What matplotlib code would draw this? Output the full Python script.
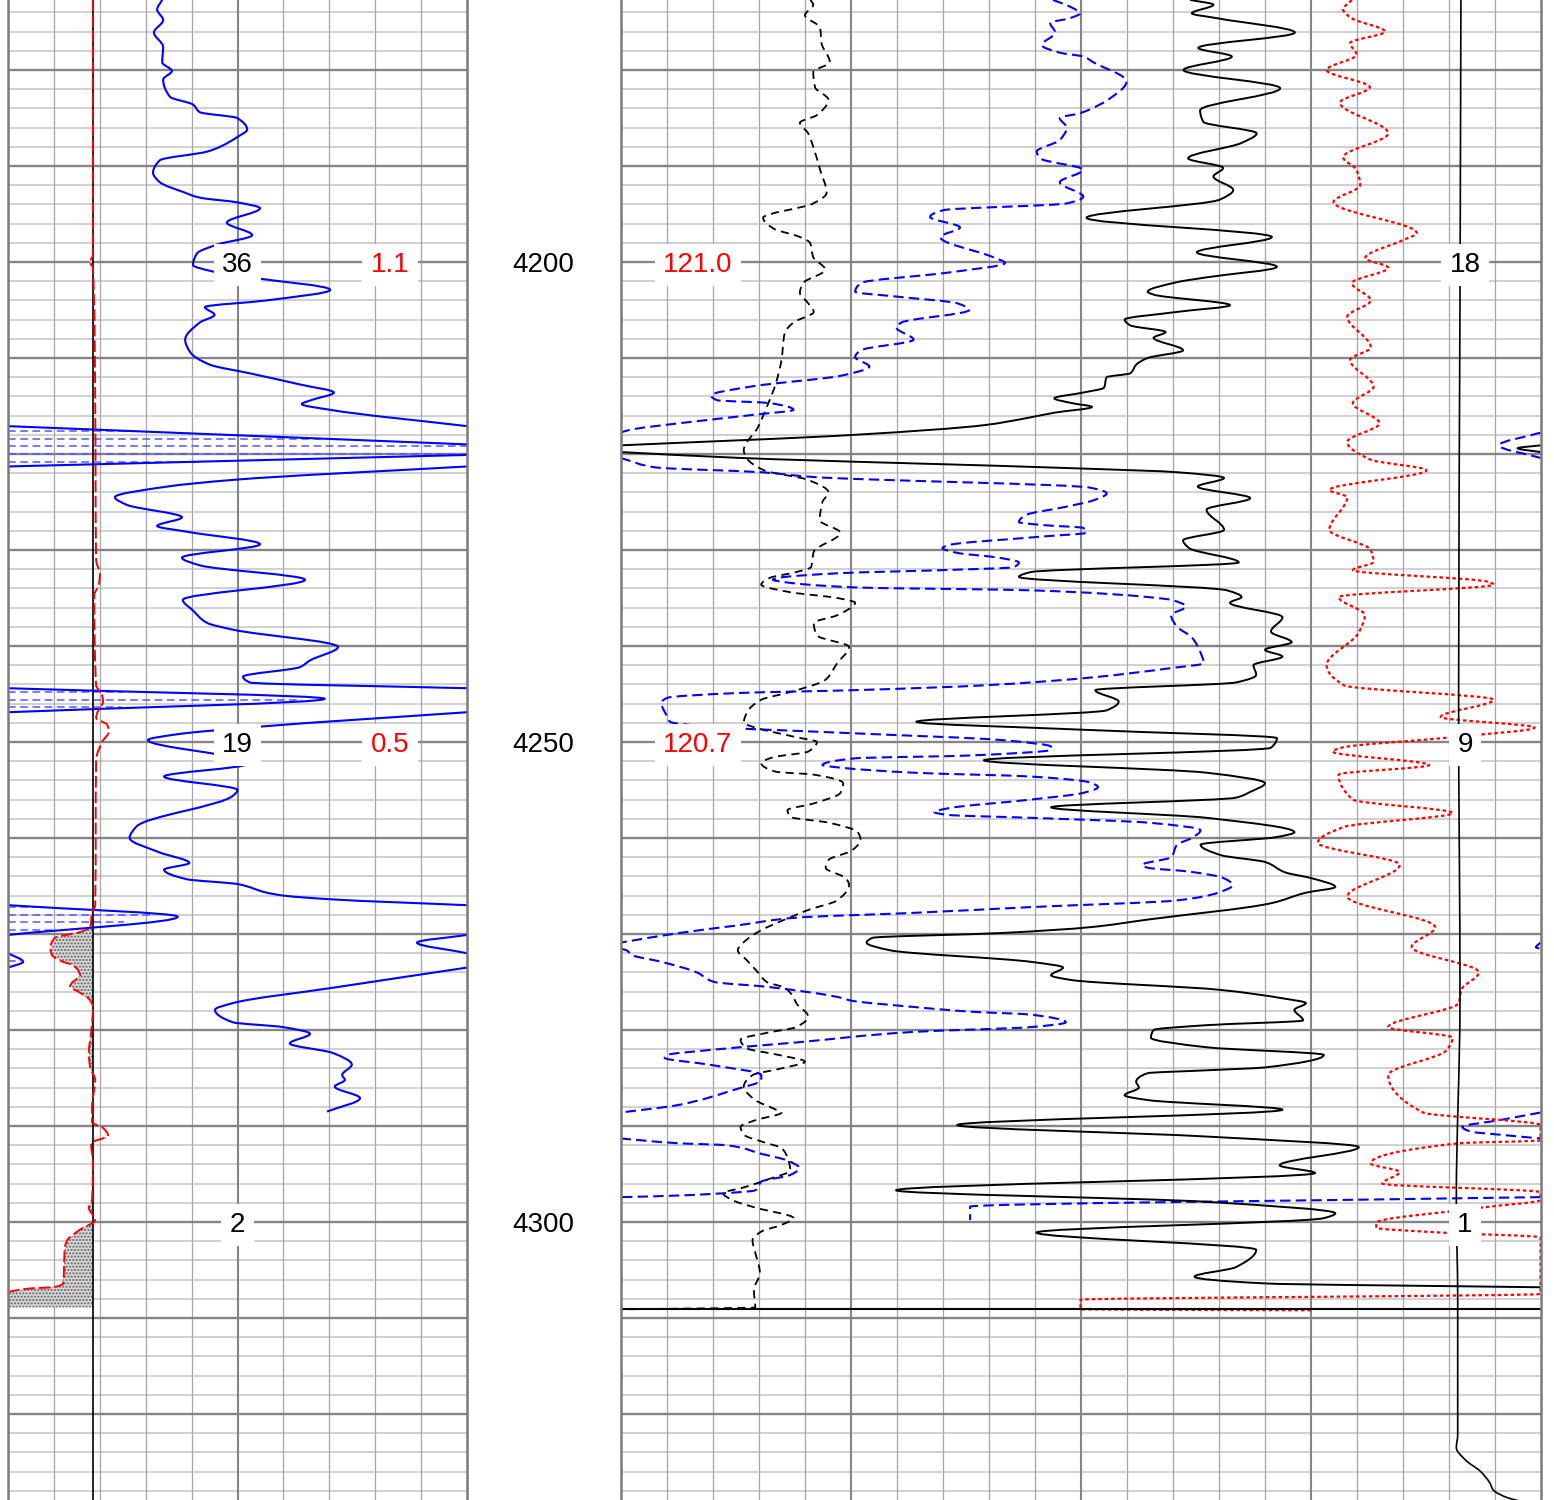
import math
import numpy as np
import matplotlib
matplotlib.use("Agg")
import matplotlib.pyplot as plt
from matplotlib.path import Path
from matplotlib.patches import PathPatch

plt.rcParams['font.family'] = ['Liberation Sans', 'DejaVu Sans']

# ---------------- data (depth in ft, values in track divisions) ----------------
TOP_DEPTH, BOTTOM_DEPTH = 4172.71, 4328.96

depth_labels = [4200, 4250, 4300]
left_black_labels = ['36', '19', '2']
left_red_labels = ['1.1', '0.5', '']
right_red_labels = ['121.0', '120.7', '']
right_black_labels = ['18', '9', '1']

# left track, blue solid curve (wraps at 10 divisions)
gr_depth = [4172.7, 4173.7, 4174.8, 4176.1, 4177.6, 4179.2, 4180.1, 4181.0, 4182.8, 4183.6,
            4184.4, 4185.0, 4186.2, 4187.0, 4188.0, 4188.5, 4189.4, 4190.7, 4191.7, 4192.7,
            4193.3, 4193.8, 4194.4, 4195.9, 4197.2, 4198.2, 4199.1, 4200.3, 4201.0, 4201.6,
            4202.9, 4204.0, 4204.7, 4205.5, 4206.3, 4208.1, 4209.4, 4210.7, 4211.6, 4212.8,
            4213.6, 4214.4, 4214.8, 4215.4, 4217.1, 4219.0, 4219.5, 4220.1, 4221.3, 4222.7,
            4223.4, 4224.5, 4225.3, 4226.6, 4227.5, 4228.1, 4229.4, 4230.8, 4231.6, 4233.1,
            4235.2, 4236.3, 4237.6, 4238.3, 4240.1, 4241.5, 4242.2, 4243.2, 4243.8, 4244.4,
            4245.5, 4246.9, 4248.4, 4249.2, 4249.8, 4251.9, 4252.3, 4253.6, 4255.0, 4255.6,
            4258.8, 4260.0, 4261.5, 4262.6, 4263.3, 4264.3, 4264.8, 4265.7, 4266.0, 4266.4,
            4267.0, 4268.2, 4270.1, 4270.9, 4272.0, 4272.9, 4273.5, 4275.6, 4277.2, 4277.9,
            4279.2, 4279.7, 4280.4, 4281.4, 4282.4, 4283.6, 4284.7, 4285.2, 4285.9, 4287.1,
            4288.5]
gr_val = [3.36, 3.25, 3.38, 3.18, 3.38, 3.36, 3.57, 3.38, 3.53, 4.03,
          4.18, 4.99, 5.21, 4.99, 4.62, 4.34, 3.31, 3.16, 3.31, 3.81,
          4.18, 5.01, 5.49, 4.77, 5.32, 4.55, 4.12, 4.03, 4.47, 5.27,
          7.02, 5.64, 4.29, 4.5, 4.18, 3.86, 3.97, 4.4, 5.27, 6.4,
          7.1, 6.6, 6.4, 7.02, 10.0, 20.0, 29.9, 20.0, 10.0, 4.9,
          3.46, 2.33, 2.59, 3.79, 3.25, 3.9, 5.49, 3.79, 4.18, 6.47,
          3.81, 4.03, 4.34, 4.9, 7.19, 6.58, 6.36, 5.12, 5.27, 10.0,
          16.9, 10.0, 5.49, 3.68, 3.05, 5.1, 5.2, 3.4, 5.0, 4.9,
          2.8, 2.65, 3.3, 3.95, 3.4, 3.9, 5.0, 5.64, 6.0, 7.08,
          10.0, 13.7, 10.0, 8.91, 10.0, 10.33, 10.0, 7.08, 4.9, 4.51,
          4.9, 5.99, 6.58, 6.14, 7.08, 7.49, 7.28, 7.34, 7.12, 7.67,
          6.95]

# left track, red dashed curve and its baseline
sp_baseline = 1.85
sp_depth = [4172.7, 4183.6, 4199.3, 4200.0, 4200.6, 4214.4, 4231.0, 4232.6, 4233.6, 4234.7,
            4244.1, 4245.1, 4245.8, 4246.9, 4247.5, 4248.2, 4248.9, 4250.0, 4251.9, 4267.0,
            4267.8, 4269.3, 4269.8, 4270.4, 4271.5, 4272.2, 4272.9, 4273.2, 4273.8, 4274.3,
            4275.1, 4275.5, 4276.0, 4276.9, 4277.6, 4280.3, 4282.4, 4283.9, 4285.2, 4288.0,
            4289.6, 4290.2, 4291.0, 4291.8, 4293.9, 4297.7, 4298.5, 4299.8, 4300.8, 4301.9,
            4302.6, 4306.4, 4306.8, 4306.9, 4307.3, 4308.1, 4308.9]
sp_val = [1.85, 1.85, 1.85, 1.78, 1.85, 1.9, 1.92, 2.0, 1.98, 1.88,
          1.92, 2.05, 2.07, 1.95, 1.92, 2.16, 2.2, 2.05, 1.92, 1.9,
          1.83, 1.79, 1.57, 1.02, 0.92, 0.96, 1.2, 1.39, 1.53, 1.57,
          1.39, 1.35, 1.53, 1.79, 1.85, 1.81, 1.76, 1.79, 1.9, 1.83,
          1.83, 2.07, 2.18, 1.81, 1.85, 1.83, 1.76, 1.9, 1.57, 1.29,
          1.24, 1.2, 0.98, 0.54, 0.0, -0.5, -0.5]

# right track, black dashed curve
kd_depth = [4172.7, 4173.2, 4174.3, 4175.6, 4177.2, 4179.2, 4180.2, 4181.8, 4183.1, 4184.7,
            4185.5, 4186.6, 4188.0, 4190.4, 4192.8, 4193.9, 4195.4, 4196.5, 4197.4, 4198.0,
            4199.5, 4200.8, 4202.2, 4203.2, 4204.3, 4205.2, 4206.3, 4207.4, 4210.2, 4212.6,
            4215.1, 4217.2, 4219.6, 4220.4, 4221.7, 4222.7, 4224.0, 4225.0, 4226.9, 4228.2,
            4230.2, 4231.8, 4232.3, 4232.9, 4233.6, 4234.4, 4235.0, 4235.5, 4236.8, 4237.6,
            4238.9, 4240.1, 4241.8, 4243.5, 4244.8, 4245.6, 4247.0, 4248.0, 4248.5, 4249.5,
            4250.0, 4251.0, 4251.6, 4252.2, 4253.1, 4253.4, 4254.3, 4255.3, 4256.4, 4257.1,
            4257.8, 4258.4, 4259.4, 4260.2, 4261.3, 4262.3, 4263.1, 4264.2, 4264.9, 4266.5,
            4267.5, 4268.9, 4269.6, 4270.6, 4271.7, 4272.7, 4274.0, 4275.0, 4275.6, 4276.6,
            4277.2, 4278.6, 4279.7, 4280.3, 4281.0, 4281.9, 4282.6, 4283.3, 4284.0, 4284.7,
            4285.9, 4287.3, 4288.3, 4288.6, 4289.4, 4290.1, 4290.9, 4291.7, 4292.3, 4293.3,
            4294.6, 4295.6, 4296.4, 4297.0, 4297.7, 4298.5, 4299.6, 4300.3, 4301.0, 4301.9,
            4303.2, 4305.3, 4307.1, 4308.9, 4309.1]
kd_val = [4.13, 4.19, 4.01, 4.34, 4.37, 4.55, 4.19, 4.23, 4.52, 4.27,
          3.9, 4.08, 4.19, 4.34, 4.48, 4.19, 3.1, 3.32, 3.9, 4.12,
          4.19, 4.45, 3.97, 3.9, 4.08, 4.2, 3.76, 3.57, 3.5, 3.38,
          3.18, 2.99, 2.68, 2.74, 3.12, 4.08, 4.52, 4.39, 4.33, 4.78,
          4.2, 4.14, 3.82, 3.25, 3.06, 3.69, 4.71, 5.1, 4.71, 4.2,
          4.27, 4.97, 4.71, 4.46, 3.69, 3.06, 2.74, 2.68, 2.93, 3.82,
          4.27, 4.08, 3.31, 3.06, 3.38, 4.2, 4.84, 4.78, 4.2, 3.63,
          3.69, 4.52, 5.16, 5.22, 5.03, 4.52, 4.46, 4.9, 4.97, 4.71,
          4.08, 3.38, 3.06, 2.74, 2.55, 2.74, 2.99, 3.18, 3.57, 3.76,
          3.82, 4.08, 3.82, 3.18, 2.61, 2.74, 3.44, 4.01, 3.5, 2.87,
          2.68, 2.93, 3.38, 3.5, 2.93, 2.61, 2.68, 3.12, 3.5, 3.63,
          3.69, 3.18, 2.68, 2.23, 2.42, 2.93, 3.76, 3.5, 3.06, 2.87,
          2.93, 3.03, 2.9, 2.93, 0.0]

# right track, blue dashed curve (depth, value), wraps at 0/20
bd_log = [(4172.7, 9.4), (4173.4, 9.77), (4174.1, 9.99), (4174.6, 9.77), (4175.1, 9.34),
          (4176.1, 9.45), (4177.4, 9.16), (4178.2, 9.55), (4178.6, 10.06), (4179.2, 10.28),
          (4181.2, 11.0), (4183.1, 10.6), (4183.6, 10.42), (4184.5, 9.99), (4185.0, 9.55),
          (4186.0, 9.7), (4187.3, 9.55), (4188.5, 9.05), (4189.2, 9.12), (4190.4, 10.06),
          (4191.7, 9.55), (4193.2, 10.06), (4193.9, 9.7), (4194.6, 7.02), (4195.3, 6.73),
          (4196.4, 7.38), (4197.4, 6.95), (4199.5, 8.1), (4200.1, 8.36), (4201.1, 7.13),
          (4202.2, 5.22), (4203.1, 5.1), (4203.6, 5.99), (4204.3, 7.32), (4205.0, 7.58),
          (4206.3, 6.11), (4206.8, 5.99), (4208.1, 6.37), (4209.2, 5.22), (4209.9, 5.1),
          (4210.9, 5.41), (4211.8, 4.84), (4213.0, 2.8), (4213.9, 1.97), (4214.4, 2.1),
          (4214.7, 3.25), (4215.4, 3.76), (4215.9, 2.93), (4216.8, 1.27), (4217.5, 0.19),
          (4219.1, -0.9), (4220.6, 0.13), (4221.4, 0.76), (4221.9, 3.06), (4222.4, 4.2),
          (4223.5, 10.2), (4224.1, 10.57), (4224.8, 10.3), (4225.5, 9.68), (4226.4, 8.79),
          (4227.1, 8.66), (4227.4, 9.17), (4227.7, 10.06), (4228.2, 10.13), (4228.6, 9.17),
          (4229.5, 7.13), (4229.8, 7.0), (4230.3, 7.32), (4230.8, 8.22), (4231.3, 8.66),
          (4231.8, 8.54), (4232.1, 7.0), (4232.4, 4.84), (4232.9, 3.44), (4233.1, 3.31),
          (4233.3, 3.5), (4233.9, 5.1), (4234.2, 8.92), (4234.9, 11.46), (4235.2, 11.97),
          (4235.9, 12.29), (4236.8, 11.97), (4238.0, 12.1), (4239.1, 12.42), (4240.7, 12.61),
          (4241.8, 12.68), (4242.3, 11.97), (4243.3, 10.19), (4244.1, 7.9), (4244.6, 5.1),
          (4244.9, 2.55), (4245.4, 1.02), (4245.9, 0.89), (4247.4, 1.02), (4247.9, 1.08),
          (4248.4, 1.91), (4249.1, 5.1), (4249.8, 8.28), (4250.5, 9.36), (4250.8, 9.36),
          (4251.4, 7.64), (4251.7, 5.1), (4252.4, 4.39), (4252.7, 4.84), (4253.2, 6.37),
          (4253.6, 8.92), (4254.2, 10.19), (4254.7, 10.38), (4255.3, 10.06), (4256.0, 8.92),
          (4256.9, 7.13), (4257.3, 6.82), (4257.6, 7.13), (4257.9, 8.92), (4258.4, 11.46),
          (4259.2, 12.61), (4260.0, 12.42), (4260.7, 12.1), (4262.0, 11.97), (4262.8, 11.34),
          (4263.1, 11.46), (4263.5, 12.36), (4264.2, 13.12), (4264.9, 13.31), (4265.7, 12.99),
          (4266.5, 12.1), (4267.2, 8.92), (4267.8, 6.37), (4268.3, 3.82), (4269.1, 2.55),
          (4269.9, 1.27), (4270.9, 0.0), (4271.4, -0.1), (4271.7, 0.13), (4272.2, 0.25),
          (4272.9, 0.89), (4274.0, 1.66), (4275.0, 2.04), (4275.5, 3.18), (4276.7, 4.84),
          (4276.9, 4.97), (4277.6, 6.37), (4278.1, 7.64), (4278.4, 8.92), (4279.2, 9.68),
          (4279.7, 8.92), (4280.2, 6.37), (4281.3, 3.82), (4282.1, 1.91), (4282.6, 1.02),
          (4282.9, 0.96), (4283.6, 1.91), (4284.7, 3.06), (4285.2, 3.06), (4286.3, 2.42),
          (4287.8, 1.27), (4288.6, 0.0), (4289.4, -0.9), (4290.1, -1.7), (4290.6, -1.5),
          (4290.9, -0.9), (4291.3, 0.0), (4291.8, 1.27), (4292.0, 2.29), (4292.9, 3.06),
          (4293.6, 3.63), (4294.4, 3.89), (4295.1, 3.69), (4295.8, 3.06), (4296.7, 2.93),
          (4297.1, 1.91), (4297.4, 0.13), (4298.4, -12.4), (4299.8, -12.4)]

# right track, black solid curve (depth, value), wraps at 0/20
ks_log = [(4172.7, 12.38), (4173.2, 12.89), (4174.1, 12.42), (4174.6, 12.96), (4176.1, 14.66),
          (4177.7, 12.56), (4178.6, 13.29), (4180.0, 12.24), (4181.9, 14.34), (4184.2, 12.6),
          (4185.4, 12.67), (4186.6, 13.83), (4187.6, 13.5), (4189.2, 12.34), (4190.2, 13.1),
          (4191.1, 12.89), (4192.5, 13.32), (4193.5, 13.03), (4195.4, 10.13), (4197.4, 14.16),
          (4199.0, 12.53), (4200.5, 14.27), (4201.6, 12.74), (4202.1, 12.1), (4203.1, 11.46),
          (4203.4, 11.59), (4204.5, 13.25), (4205.2, 12.1), (4206.0, 10.96), (4206.6, 11.08),
          (4207.3, 11.85), (4207.9, 11.59), (4209.2, 12.23), (4210.0, 11.46), (4210.7, 11.21),
          (4211.6, 11.08), (4212.0, 10.57), (4213.1, 10.51), (4213.6, 10.06), (4214.2, 9.43),
          (4214.7, 9.81), (4215.1, 10.25), (4215.7, 9.43), (4216.3, 8.79), (4217.0, 7.9),
          (4218.0, 5.1), (4219.1, 0.0), (4219.4, -0.5), (4219.8, 0.0), (4220.4, 2.55),
          (4221.5, 9.94), (4221.9, 12.1), (4222.5, 13.12), (4223.4, 12.55), (4224.6, 13.69),
          (4225.8, 12.74), (4227.9, 13.12), (4229.0, 12.23), (4229.8, 12.36), (4231.3, 13.44),
          (4232.3, 8.92), (4232.8, 8.66), (4234.2, 13.18), (4234.9, 13.5), (4235.5, 13.25),
          (4237.0, 14.39), (4238.5, 14.14), (4239.6, 14.59), (4240.4, 14.01), (4241.1, 14.39),
          (4242.0, 13.76), (4243.0, 13.82), (4243.8, 13.38), (4244.6, 10.32), (4245.8, 10.83),
          (4246.7, 10.57), (4247.9, 6.43), (4248.75, 10.19), (4249.6, 14.27), (4250.6, 14.14),
          (4251.9, 7.9), (4253.2, 12.74), (4254.3, 14.01), (4255.2, 13.69), (4255.8, 13.38),
          (4256.8, 9.36), (4257.9, 12.74), (4259.4, 14.65), (4259.9, 14.27), (4260.7, 12.61),
          (4261.8, 13.06), (4262.5, 14.01), (4263.6, 14.46), (4264.2, 15.03), (4265.1, 15.54),
          (4265.7, 14.9), (4266.8, 14.14), (4268.5, 11.46), (4269.3, 10.19), (4269.9, 8.28),
          (4270.4, 5.48), (4270.9, 5.35), (4271.7, 5.86), (4272.9, 8.92), (4273.5, 9.62),
          (4274.3, 9.36), (4274.8, 9.81), (4275.8, 12.99), (4276.7, 14.39), (4277.2, 14.9),
          (4277.9, 14.65), (4279.0, 14.84), (4279.5, 12.74), (4280.0, 11.59), (4280.8, 11.53),
          (4281.8, 12.74), (4282.6, 15.29), (4283.9, 14.01), (4284.2, 12.74), (4284.5, 11.46),
          (4285.4, 11.21), (4286.0, 11.27), (4286.8, 10.96), (4287.3, 11.46), (4288.3, 14.39),
          (4289.9, 7.32), (4291.1, 12.74), (4292.2, 16.05), (4294.1, 14.33), (4294.9, 15.1),
          (4296.7, 5.99), (4297.9, 12.74), (4299.1, 15.54), (4299.6, 15.29), (4301.1, 9.04),
          (4302.9, 13.82), (4304.7, 13.38), (4305.7, 12.48), (4306.4, 14.01), (4306.8, 19.99)]

# right track, red dotted curve (depth, value)
rd_log = [(4172.7, 15.9), (4173.7, 15.71), (4174.6, 15.89), (4176.0, 16.62), (4177.2, 15.86),
          (4178.4, 16.0), (4180.0, 15.35), (4181.8, 16.29), (4183.4, 15.64), (4186.6, 16.69),
          (4189.1, 15.71), (4190.4, 16.0), (4192.0, 16.08), (4193.75, 15.5), (4197.0, 17.31),
          (4197.7, 17.02), (4199.6, 16.19), (4200.6, 16.69), (4202.2, 15.9), (4204.0, 16.31),
          (4205.7, 15.8), (4208.9, 16.31), (4210.2, 15.86), (4213.0, 16.37), (4214.7, 15.92),
          (4216.8, 16.5), (4218.75, 15.8), (4220.6, 16.31), (4221.7, 17.52), (4223.75, 15.41),
          (4224.5, 15.8), (4227.9, 15.41), (4230.0, 16.31), (4231.25, 16.37), (4232.1, 15.92),
          (4233.3, 18.85), (4233.6, 18.98), (4234.9, 15.61), (4236.8, 16.18), (4238.6, 16.05),
          (4242.0, 15.35), (4244.1, 15.73), (4245.6, 18.98), (4247.4, 17.83), (4248.5, 19.87),
          (4249.5, 18.09), (4250.6, 15.67), (4251.0, 15.48), (4252.4, 17.58), (4253.4, 15.61),
          (4256.0, 15.92), (4257.4, 18.09), (4258.85, 15.73), (4260.5, 15.16), (4262.8, 16.94),
          (4266.1, 15.8), (4269.3, 17.71), (4271.35, 17.2), (4274.0, 18.66), (4275.8, 18.28),
          (4277.2, 18.22), (4279.7, 16.69), (4280.8, 18.09), (4282.1, 17.96), (4284.7, 16.69),
          (4288.6, 17.45), (4289.9, 20.0), (4291.5, 20.0), (4291.8, 18.22), (4293.9, 16.31),
          (4294.8, 16.94), (4296.0, 16.56), (4296.9, 20.0), (4297.7, 20.0), (4298.5, 18.73),
          (4300.1, 16.43), (4300.6, 16.43), (4301.1, 17.83), (4301.6, 20.0), (4307.5, 20.0),
          (4308.1, 10.0), (4309.1, 10.0), (4309.2, 15.0)]

# right track, black solid near-vertical curve (depth, value)
kv_log = [(4172.7, 18.27), (4204.0, 18.25), (4245.6, 18.22), (4276.9, 18.25), (4297.7, 18.17),
          (4308.1, 18.2), (4320.6, 18.2), (4322.2, 18.2), (4323.5, 18.17), (4324.8, 18.37),
          (4326.0, 18.7), (4327.2, 18.9), (4327.9, 18.97), (4328.75, 19.3), (4329.0, 19.5)]

td_depth = 4309.1

# ---------------- helpers ----------------
def wrap_segments(depth, vals, lo, hi):
    """Split a curve into pieces that wrap around the track edges."""
    w = hi - lo
    segs = []
    cur, cur_k = None, None
    for i in range(len(vals) - 1):
        d0, d1, v0, v1 = depth[i], depth[i + 1], vals[i], vals[i + 1]
        pts = [(v0, d0)]
        if v1 != v0:
            kmin = math.floor((min(v0, v1) - lo) / w)
            kmax = math.floor((max(v0, v1) - lo) / w)
            bounds = [lo + k * w for k in range(kmin + 1, kmax + 1)]
            if v1 < v0:
                bounds = bounds[::-1]
            for b in bounds:
                t = (b - v0) / (v1 - v0)
                pts.append((b, d0 + t * (d1 - d0)))
        pts.append((v1, d1))
        for (va, da), (vb, db) in zip(pts[:-1], pts[1:]):
            if abs(va - vb) < 1e-9 and abs(da - db) < 1e-9:
                continue
            k = math.floor(((va + vb) / 2 - lo) / w)
            xa, xb = va - k * w, vb - k * w
            if cur is not None and k == cur_k:
                cur.append((xb, db))
            else:
                if cur:
                    segs.append((cur_k, cur))
                cur, cur_k = [(xa, da), (xb, db)], k
    if cur:
        segs.append((cur_k, cur))
    return segs


def smooth_path(xs, ds):
    """Monotone cubic (PCHIP-style) Bezier path through the samples, x as a function of depth."""
    x = np.asarray(xs, float)
    d = np.asarray(ds, float)
    n = len(x)
    if n < 3:
        return Path(list(zip(x, d)), [Path.MOVETO] + [Path.LINETO] * (n - 1))
    h = np.diff(d)
    h = np.where(h <= 1e-9, 1e-9, h)
    delta = np.diff(x) / h
    m = np.zeros(n)
    m[0], m[-1] = delta[0], delta[-1]
    for k in range(1, n - 1):
        if delta[k - 1] * delta[k] <= 0:
            m[k] = 0.0
        else:
            w1 = 2 * h[k] + h[k - 1]
            w2 = h[k] + 2 * h[k - 1]
            m[k] = (w1 + w2) / (w1 / delta[k - 1] + w2 / delta[k])
    verts = [(x[0], d[0])]
    codes = [Path.MOVETO]
    for k in range(n - 1):
        hk = d[k + 1] - d[k]
        verts += [(x[k] + m[k] * hk / 3, d[k] + hk / 3),
                  (x[k + 1] - m[k + 1] * hk / 3, d[k + 1] - hk / 3),
                  (x[k + 1], d[k + 1])]
        codes += [Path.CURVE4] * 3
    return Path(verts, codes)


def draw_curve(ax, xs, ds, color, lw, ls='-', z=4):
    ax.add_patch(PathPatch(smooth_path(xs, ds), fill=False, edgecolor=color, lw=lw,
                           linestyle=ls, joinstyle='round', zorder=z))


def setup_track(ax, ndiv):
    ax.set_xlim(0, ndiv)
    ax.set_ylim(BOTTOM_DEPTH, TOP_DEPTH)
    ax.set_xticks([])
    ax.set_yticks([])
    for s in ['top', 'bottom']:
        ax.spines[s].set_visible(False)
    for s in ['left', 'right']:
        ax.spines[s].set_color('#7a7a7a')
        ax.spines[s].set_linewidth(1.8)
        ax.spines[s].set_zorder(8)
    for d in np.arange(4174, 4330, 2):
        major = (int(round(d)) % 10 == 0)
        ax.axhline(d, color='#858585' if major else '#c4c4c4',
                   lw=1.7 if major else 1.1, zorder=0.5 if major else 0.3)
    for i in range(1, ndiv):
        major = (i % 5 == 0)
        ax.axvline(i, color='#858585' if major else '#a6a6a6',
                   lw=1.5 if major else 0.9, zorder=0.6 if major else 0.4)


def label(ax, x, d, s, color):
    if not s:
        return
    ax.text(x, d, s, ha='center', va='center_baseline', fontsize=20, color=color,
            zorder=9, bbox=dict(boxstyle='square,pad=0.3', fc='white', ec='none'))


# ---------------- figure ----------------
fig = plt.figure(figsize=(15.54, 15.0), dpi=100)
W = 1554.0
axL = fig.add_axes([8 / W, 0, 459 / W, 1])
axM = fig.add_axes([467 / W, 0, 153.5 / W, 1])
axR = fig.add_axes([620.5 / W, 0, 920 / W, 1])

setup_track(axL, 10)
setup_track(axR, 20)
axM.set_xlim(0, 1)
axM.set_ylim(BOTTOM_DEPTH, TOP_DEPTH)
axM.axis('off')

# ---- left track ----
gr_d = np.array(gr_depth)
gr_v = np.array(gr_val)
for k, seg in wrap_segments(gr_d, gr_v, 0, 10):
    if k > 1 or k < 0:
        continue
    xs, ds = zip(*seg)
    draw_curve(axL, xs, ds, '#0000ff', 1.5)

# backup hatch where the curve runs past the track
for hd in np.arange(4172.8, BOTTOM_DEPTH, 0.8):
    if hd < gr_d[0] or hd > gr_d[-1]:
        continue
    v = np.interp(hd, gr_d, gr_v)
    if v > 10:
        axL.plot([0, min(v - 10, 10)], [hd, hd], color='#5555ff', lw=1.1,
                 dashes=(5, 3), zorder=3)

sp_d = np.array(sp_depth)
sp_v = np.array(sp_val)
axL.fill_betweenx(sp_d, sp_v, sp_baseline, where=sp_v < sp_baseline, interpolate=True,
                  facecolor='#d8d8d8', edgecolor='#606060', hatch='.....', linewidth=0,
                  zorder=2)
axL.axvline(sp_baseline, color='black', lw=1.2, zorder=3.5)
draw_curve(axL, sp_v, sp_d, '#ff0000', 1.4, ls=(0, (6, 2)))

# ---- right track ----
draw_curve(axR, kd_val, kd_depth, 'black', 1.3, ls=(0, (4.5, 3)))

bd_d, bd_v = zip(*bd_log)
for k, seg in wrap_segments(bd_d, bd_v, 0, 20):
    xs, ds = zip(*seg)
    draw_curve(axR, xs, ds, '#0000ff', 1.5, ls=(0, (5, 2.5)))

ks_d, ks_v = zip(*ks_log)
for k, seg in wrap_segments(ks_d, ks_v, 0, 20):
    xs, ds = zip(*seg)
    draw_curve(axR, xs, ds, 'black', 1.4, z=4.5)

rd_d, rd_v = zip(*rd_log)
draw_curve(axR, rd_v, rd_d, '#ff0000', 1.6, ls=(0, (1.6, 1.3)))

kv_d, kv_v = zip(*kv_log)
draw_curve(axR, kv_v, kv_d, 'black', 1.2)

axR.axhline(td_depth, color='black', lw=1.5, zorder=5)

# ---- labels ----
for i, d in enumerate(depth_labels):
    axM.text(0.5, d, str(d), ha='center', va='center_baseline', fontsize=20, color='black')
    label(axL, 5.0, d, left_black_labels[i], 'black')
    label(axL, 8.32, d, left_red_labels[i], '#ff0000')
    label(axR, 1.68, d, right_red_labels[i], '#ff0000')
    label(axR, 18.36, d, right_black_labels[i], 'black')

fig.savefig('out.png', dpi=100)
